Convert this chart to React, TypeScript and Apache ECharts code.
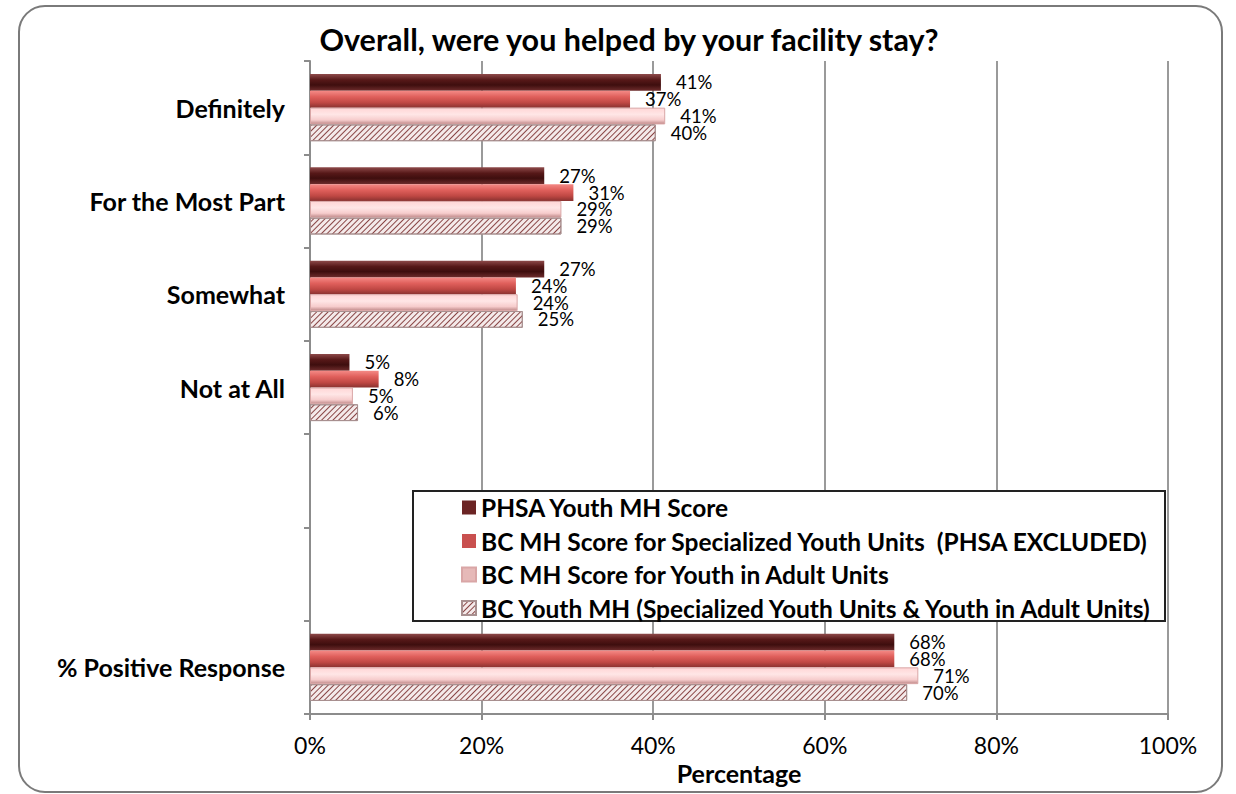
import React, { useEffect, useRef } from "react";
import * as echarts from "echarts";

const categories = ["Definitely", "For the Most Part", "Somewhat", "Not at All", " ", "  ", "% Positive Response"];
const seriesNames = [
  "PHSA Youth MH Score",
  "BC MH Score for Specialized Youth Units  (PHSA EXCLUDED)",
  "BC MH Score for Youth in Adult Units",
  "BC Youth MH (Specialized Youth Units & Youth in Adult Units)",
];
const phsa = [40.9, 27.3, 27.3, 4.6, null, null, 68.1];
const bcSpecialized = [37.3, 30.7, 24.0, 8.0, null, null, 68.1];
const bcAdult = [41.4, 29.3, 24.2, 5.0, null, null, 70.9];
const bcYouth = [40.3, 29.3, 24.8, 5.6, null, null, 69.6];
const xTicks = [0, 20, 40, 60, 80, 100];

const FONT = "Lato, 'Noto Sans', sans-serif";

function grad(stops: [number, string][]) {
  return new echarts.graphic.LinearGradient(0, 0, 0, 1, stops.map(([offset, color]) => ({ offset, color })));
}

export default function App() {
  const ref = useRef<HTMLDivElement>(null);
  useEffect(() => {
    document.body.style.margin = "0";
    const chart = echarts.init(ref.current!, null, { renderer: "svg" });
    const label = {
      show: true,
      position: "right",
      distance: 15,
      fontSize: 18.5,
      lineHeight: 16,
      fontFamily: FONT,
      color: "#000",
      formatter: (p: any) => Math.round(p.value) + "%",
    };
    const common = { type: "bar", barGap: "0%", barCategoryGap: "28%", label };
    chart.setOption({
      animation: false,
      backgroundColor: "#fff",
      title: {
        text: "Overall, were you helped by your facility stay?",
        left: 624,
        top: 18,
        textAlign: "center",
        textStyle: { fontSize: 30.5, fontWeight: "bold", fontFamily: FONT, color: "#000" },
      },
      grid: { left: 310, right: 68, top: 61, bottom: 80, containLabel: false },
      legend: {
        orient: "vertical",
        left: 456,
        top: 490,
        itemWidth: 14,
        itemHeight: 14,
        itemGap: 8.5,
        selectedMode: false,
        textStyle: { fontSize: 24.5, fontWeight: "bold", fontFamily: FONT, color: "#000", lineHeight: 24 },
        data: [
          { name: seriesNames[0], icon: "rect", itemStyle: { color: "#6b2424" } },
          { name: seriesNames[1], icon: "rect", itemStyle: { color: "#c9504f" } },
          { name: seriesNames[2], icon: "rect", itemStyle: { color: "#e6b9b8" } },
          { name: seriesNames[3], icon: "rect" },
        ],
      },
      graphic: [
        {
          type: "rect",
          shape: { x: 19, y: 6, width: 1203, height: 786, r: 26 },
          style: { fill: "none", stroke: "#7a7a7a", lineWidth: 2 },
          z: 0,
        },
        {
          type: "rect",
          shape: { x: 413, y: 491, width: 752, height: 130 },
          style: { fill: "#fff", stroke: "#222", lineWidth: 2 },
          z: 3,
        },
      ],
      xAxis: {
        type: "value",
        min: 0,
        max: 100,
        interval: 20,
        name: "Percentage",
        nameLocation: "middle",
        nameGap: 41,
        nameTextStyle: { fontSize: 25, fontWeight: "bold", fontFamily: FONT, color: "#000" },
        axisLine: { show: true, lineStyle: { color: "#8c8c8c", width: 2 } },
        axisTick: { show: true, length: 6, lineStyle: { color: "#8c8c8c", width: 2 } },
        axisLabel: {
          fontSize: 23,
          fontFamily: FONT,
          color: "#000",
          margin: 19,
          formatter: (v: number) => (xTicks.includes(v) ? v + "%" : ""),
        },
        splitLine: { show: true, lineStyle: { color: "#9a9a9a", width: 2 } },
      },
      yAxis: {
        type: "category",
        data: categories,
        inverse: true,
        axisLine: { show: true, lineStyle: { color: "#8c8c8c", width: 2 } },
        axisTick: { show: true, length: 6, alignWithLabel: false, lineStyle: { color: "#8c8c8c", width: 2 } },
        axisLabel: { fontSize: 25, fontWeight: "bold", fontFamily: FONT, color: "#000", margin: 25 },
      },
      series: [
        {
          ...common,
          name: seriesNames[0],
          data: phsa,
          itemStyle: {
            color: grad([[0, "#8e4a4a"], [0.35, "#561818"], [0.65, "#3e0e0e"], [1, "#6e2c2c"]]),
          },
        },
        {
          ...common,
          name: seriesNames[1],
          data: bcSpecialized,
          itemStyle: {
            color: grad([[0, "#f48a86"], [0.35, "#e0605c"], [0.7, "#c04844"], [1, "#8a3230"]]),
          },
        },
        {
          ...common,
          name: seriesNames[2],
          data: bcAdult,
          itemStyle: {
            color: grad([[0, "#ffd6d6"], [0.4, "#ffe6e6"], [0.75, "#f6cccc"], [1, "#c08a8a"]]),
            borderColor: "#d9a6a6",
            borderWidth: 1,
          },
        },
        {
          ...common,
          name: seriesNames[3],
          data: bcYouth,
          itemStyle: {
            color: "#f4eaea",
            borderColor: "#a89090",
            borderWidth: 1,
            decal: {
              symbol: "rect",
              color: "#8a4646",
              backgroundColor: "#ffffff",
              dashArrayX: [1, 0],
              dashArrayY: [1, 2.4],
              rotation: -Math.PI / 4,
              symbolSize: 1,
            },
          },
        },
      ],
    });
    return () => chart.dispose();
  }, []);
  return <div ref={ref} style={{ width: 1236, height: 794 }} />;
}
